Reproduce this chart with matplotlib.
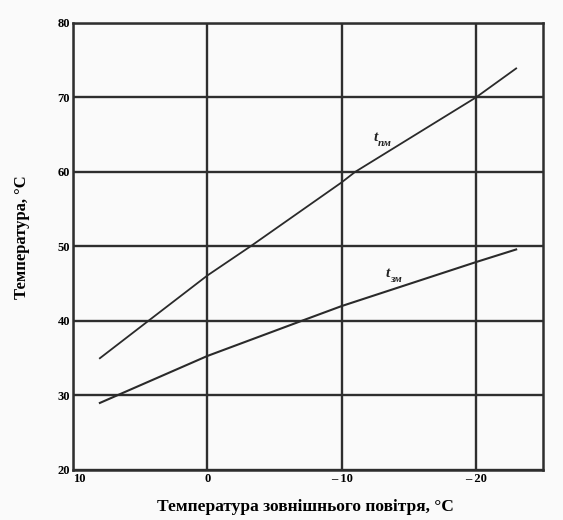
import matplotlib
matplotlib.use("Agg")
import matplotlib.pyplot as plt

# температура зовнішнього повітря, °C
t_out_pm = [8, 4.4, 0, -3.2, -10, -11, -20, -23]
t_pm = [35.0, 40.0, 46.1, 50.0, 58.6, 60.0, 70.0, 73.9]

t_out_zm = [8, 0, -7, -10, -20, -23]
t_zm = [29.0, 35.3, 40.0, 42.0, 47.9, 49.6]

x_ticks = [10, 0, -10, -20]
x_ticklabels = ["10", "0", "\u2013 10", "\u2013 20"]
y_ticks = [20, 30, 40, 50, 60, 70, 80]

plt.rcParams["font.family"] = ["Liberation Serif", "DejaVu Serif"]

fig = plt.figure(figsize=(5.63, 5.2), dpi=100, facecolor="#fafafa")
ax = fig.add_axes([0.1297, 0.0962, 0.8348, 0.8596])
ax.set_facecolor("#fafafa")

ax.plot(t_out_pm, t_pm, color="#2a2a2a", lw=1.3)
ax.plot(t_out_zm, t_zm, color="#2a2a2a", lw=1.5)

# підписи кривих: t з нижнім індексом
lab = dict(fontweight="bold", style="italic", color="#222222")
ax.text(-12.7, 64.6, "t", fontsize=11, ha="right", va="center", **lab)
ax.text(-12.7, 63.8, "пм", fontsize=8, ha="left", va="center", **lab)
ax.text(-13.6, 46.4, "t", fontsize=11, ha="right", va="center", **lab)
ax.text(-13.6, 45.6, "зм", fontsize=8, ha="left", va="center", **lab)

ax.set_xlim(10, -25)
ax.set_ylim(20, 80)
ax.set_xticks(x_ticks)
ax.set_xticklabels(x_ticklabels)
ax.set_yticks(y_ticks)
ax.grid(True, color="#2e2e2e", lw=1.7)
ax.set_axisbelow(True)
for s in ax.spines.values():
    s.set_color("#2e2e2e")
    s.set_linewidth(1.8)
ax.tick_params(length=0, labelsize=9, pad=2)
for lbl in ax.get_xticklabels() + ax.get_yticklabels():
    lbl.set_fontweight("bold")
ax.get_xticklabels()[0].set_horizontalalignment("left")

ax.set_xlabel("Температура зовнішнього повітря, °С", fontsize=12.5, fontweight="bold", va="center")
ax.set_ylabel("Температура, °С", fontsize=12, fontweight="bold", va="center")
ax.xaxis.set_label_coords(0.494, -0.083)
ax.yaxis.set_label_coords(-0.108, 0.52)

fig.savefig("out.png", dpi=100, facecolor=fig.get_facecolor())
